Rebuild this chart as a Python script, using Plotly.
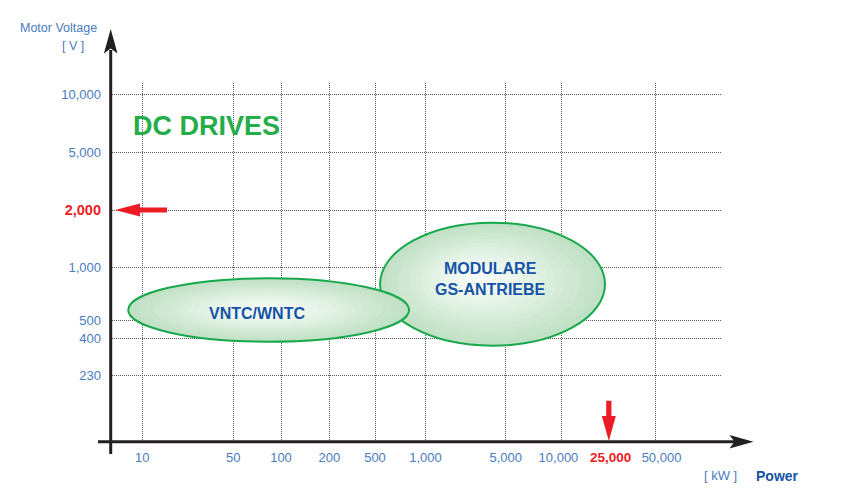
import numpy as np
import plotly.graph_objects as go

# ---------------- data ----------------
power_ticks = [10, 50, 100, 200, 500, 1000, 5000, 10000, 25000, 50000]
power_labels = ["10", "50", "100", "200", "500", "1,000", "5,000", "10,000", "25,000", "50,000"]
power_grid = [10, 50, 100, 200, 500, 1000, 5000, 10000, 50000]

voltage_ticks = [230, 400, 500, 1000, 2000, 5000, 10000]
voltage_labels = ["230", "400", "500", "1,000", "2,000", "5,000", "10,000"]

highlight_power = 25000     # kW
highlight_voltage = 2000    # V

# drive families (drawn in this order, later ones on top)
drive_names = ["MODULARE<br>GS-ANTRIEBE", "VNTC/WNTC"]
drive_power_min = [536, 7.8]        # kW
drive_power_max = [21100, 798]      # kW
drive_voltage_min = [358, 380]      # V
drive_voltage_max = [1718, 869]     # V

# ---------------- page / plot geometry ----------------
W, H = 846, 495
L, R, T, B = 110, 722, 83, 442          # plot area in page pixels

# The printed axes are not uniform: value -> axis position,
# log-interpolated between the printed stops.
POWER_STOPS = ([10, 50, 100, 200, 500, 1000, 5000, 10000, 50000],
               [32.3, 123.3, 171, 219.3, 265, 315.5, 395.7, 451.7, 545])
VOLTAGE_STOPS = ([230, 400, 500, 1000, 2000, 5000, 10000],
                 [67, 103.7, 122, 174.3, 232, 290, 347.7])


def make_scale(stops):
    lv = np.log10(np.array(stops[0], float))
    pos = np.array(stops[1], float)
    lo_slope = (pos[1] - pos[0]) / (lv[1] - lv[0])
    hi_slope = (pos[-1] - pos[-2]) / (lv[-1] - lv[-2])

    def scale(v):
        lvv = np.log10(np.asarray(v, float))
        out = np.interp(lvv, lv, pos)
        out = np.where(lvv < lv[0], pos[0] + (lvv - lv[0]) * lo_slope, out)
        out = np.where(lvv > lv[-1], pos[-1] + (lvv - lv[-1]) * hi_slope, out)
        return out

    return scale


pscale = make_scale(POWER_STOPS)
vscale = make_scale(VOLTAGE_STOPS)


def xp(px):
    return (px - L) / (R - L)


def yp(py):
    return (B - py) / (B - T)


# ---------------- colours ----------------
TICK_BLUE = "#4a7cc0"
DARK_BLUE = "#1553a6"
RED = "#ed1c24"
GREEN_TEXT = "#25ad4a"
OUTLINE_GREEN = "#17a84b"
AXIS_BLACK = "#231f20"
GRID = "#5a5a5a"
EDGE_RGB = np.array([192, 225, 197])
CENTER_RGB = np.array([251, 254, 251])
FONT = "Liberation Sans"

fig = go.Figure()
fig.add_trace(go.Scatter(x=[], y=[], showlegend=False, hoverinfo="skip"))
fig.add_trace(go.Scatter(x=[], y=[], xaxis="x2", showlegend=False, hoverinfo="skip"))

shapes = []

# ---- drive-family ellipses with a radial shading ----
N_LAYERS = 16
focus_shift = [(-18, 8), (-4, 0)]   # where the bright spot sits, in axis units
for i, name in enumerate(drive_names):
    x0, x1 = pscale([drive_power_min[i], drive_power_max[i]])
    y0, y1 = vscale([drive_voltage_min[i], drive_voltage_max[i]])
    cx, cy = (x0 + x1) / 2, (y0 + y1) / 2
    rx, ry = (x1 - x0) / 2, (y1 - y0) / 2
    fx, fy = focus_shift[i]
    for k in range(N_LAYERS):
        t = 1 - k / N_LAYERS
        c = CENTER_RGB + (EDGE_RGB - CENTER_RGB) * t ** 1.2
        ccx, ccy = cx + (1 - t) * fx, cy + (1 - t) * fy
        shapes.append(dict(type="circle", xref="x", yref="y",
                           x0=ccx - rx * t, x1=ccx + rx * t,
                           y0=ccy - ry * t, y1=ccy + ry * t,
                           fillcolor="rgb(%d,%d,%d)" % tuple(c.astype(int)),
                           line=dict(width=0), layer="above"))
    shapes.append(dict(type="circle", xref="x", yref="y",
                       x0=x0, x1=x1, y0=y0, y1=y1,
                       line=dict(color=OUTLINE_GREEN, width=2), layer="above"))

# ---- red highlight arrows ----
yh = float(vscale(highlight_voltage))
tip, head, half_h, half_s, tail = 5, 25, 6.5, 2.6, 57
shapes.append(dict(type="path", xref="x", yref="y",
                   path=(f"M{tip},{yh} L{tip+head},{yh+half_h} L{tip+head},{yh+half_s} "
                         f"L{tail},{yh+half_s} L{tail},{yh-half_s} L{tip+head},{yh-half_s} "
                         f"L{tip+head},{yh-half_h} Z"),
                   fillcolor=RED, line=dict(width=0)))
xh = float(pscale(highlight_power)) - 6
tip_y, top_y, half_w = 1, 41.3, 7
shapes.append(dict(type="path", xref="x", yref="y",
                   path=(f"M{xh},{tip_y} L{xh-half_w},{tip_y+head} L{xh-half_s},{tip_y+head} "
                         f"L{xh-half_s},{top_y} L{xh+half_s},{top_y} L{xh+half_s},{tip_y+head} "
                         f"L{xh+half_w},{tip_y+head} Z"),
                   fillcolor=RED, line=dict(width=0)))

# ---- black axis lines with arrow heads ----
shapes.append(dict(type="line", xref="paper", yref="paper",
                   x0=xp(110.7), x1=xp(110.7), y0=yp(454), y1=yp(50),
                   line=dict(color=AXIS_BLACK, width=3)))
shapes.append(dict(type="path", xref="paper", yref="paper",
                   path=(f"M{xp(110.7)},{yp(29)} L{xp(117.5)},{yp(53.5)} L{xp(110.7)},{yp(48.5)} "
                         f"L{xp(103.9)},{yp(53.5)} Z"),
                   fillcolor=AXIS_BLACK, line=dict(width=0)))
shapes.append(dict(type="line", xref="paper", yref="paper",
                   x0=xp(98), x1=xp(736), y0=yp(441.7), y1=yp(441.7),
                   line=dict(color=AXIS_BLACK, width=3)))
shapes.append(dict(type="path", xref="paper", yref="paper",
                   path=(f"M{xp(753.5)},{yp(441.7)} L{xp(729.5)},{yp(448.5)} L{xp(734.5)},{yp(441.7)} "
                         f"L{xp(729.5)},{yp(434.9)} Z"),
                   fillcolor=AXIS_BLACK, line=dict(width=0)))

# ---- text ----
annotations = []


def page_text(text, px, py, size, color, bold=False):
    annotations.append(dict(text=text, xref="paper", yref="paper", x=xp(px), y=yp(py),
                            xanchor="center", yanchor="middle", showarrow=False,
                            font=dict(family=FONT, size=size, color=color,
                                      weight="bold" if bold else "normal")))


page_text("Motor Voltage", 58, 28, 12.5, TICK_BLUE)
page_text("[ V ]", 72.5, 46.5, 12.5, TICK_BLUE)
page_text("DC DRIVES", 206, 125.5, 27, GREEN_TEXT, bold=True)
page_text("[ kW ]", 720, 476, 13, TICK_BLUE)
page_text("Power", 778, 476, 14, DARK_BLUE, bold=True)

label_shift = [(-2, 5), (-12, -3)]
for i, name in enumerate(drive_names):
    cx = float(np.mean(pscale([drive_power_min[i], drive_power_max[i]])))
    cy = float(np.mean(vscale([drive_voltage_min[i], drive_voltage_max[i]])))
    annotations.append(dict(text=name, xref="x", yref="y", x=cx, y=cy,
                            xshift=label_shift[i][0], yshift=label_shift[i][1],
                            xanchor="center", yanchor="middle", showarrow=False,
                            font=dict(family=FONT, size=16, color=DARK_BLUE, weight="bold")))

# highlighted power value: red bold label under the axis, next to the arrow
hi_idx = power_ticks.index(highlight_power)
annotations.append(dict(text=power_labels[hi_idx], xref="x", yref="paper",
                        x=float(pscale(highlight_power)), y=yp(457.5), xshift=-4.5,
                        xanchor="center", yanchor="middle", showarrow=False, borderpad=0,
                        font=dict(family=FONT, size=13.5, color=RED, weight="bold")))

# regular power tick labels (the highlighted one is drawn above)
x_vals = [v for v in power_ticks if v != highlight_power]
x_text = [lab for v, lab in zip(power_ticks, power_labels) if v != highlight_power]
x_text[x_vals.index(10000)] += "\u2002"
x_text[x_vals.index(50000)] = "\u2002\u2002" + x_text[x_vals.index(50000)]


def mark(labels, values, hi):
    out = []
    for lab, v in zip(labels, values):
        if v == hi:
            out.append(f"<span style='color:{RED};font-size:14.5px;font-weight:bold'>{lab}</span>")
        else:
            out.append(lab)
    return out


fig.update_layout(
    width=W, height=H,
    margin=dict(l=L, r=W - R, t=T, b=H - B, pad=0, autoexpand=False),
    paper_bgcolor="white", plot_bgcolor="white",
    showlegend=False,
    xaxis=dict(range=[0, R - L], tickmode="array",
               tickvals=pscale(x_vals).tolist(),
               ticktext=x_text,
               tickangle=0, automargin=False,
               showgrid=False, zeroline=False, showline=False, ticks="",
               ticklabelstandoff=6,
               tickfont=dict(family=FONT, size=13, color=TICK_BLUE), fixedrange=True),
    xaxis2=dict(range=[0, R - L], overlaying="x", anchor="y", side="bottom",
                tickmode="array", tickvals=pscale(power_grid).tolist(),
                showticklabels=False, ticks="", zeroline=False, showline=False,
                automargin=False,
                showgrid=True, gridcolor=GRID, gridwidth=1, griddash="1px,1px"),
    yaxis=dict(range=[0, B - T], tickmode="array",
               tickvals=vscale(voltage_ticks).tolist(),
               ticktext=mark(voltage_labels, voltage_ticks, highlight_voltage),
               automargin=False,
               showgrid=True, gridcolor=GRID, gridwidth=1, griddash="1px,1px",
               zeroline=False, showline=False, ticks="", ticklabelstandoff=8,
               tickfont=dict(family=FONT, size=13, color=TICK_BLUE), fixedrange=True),
    shapes=shapes,
    annotations=annotations,
)

fig.write_html("out.html")
